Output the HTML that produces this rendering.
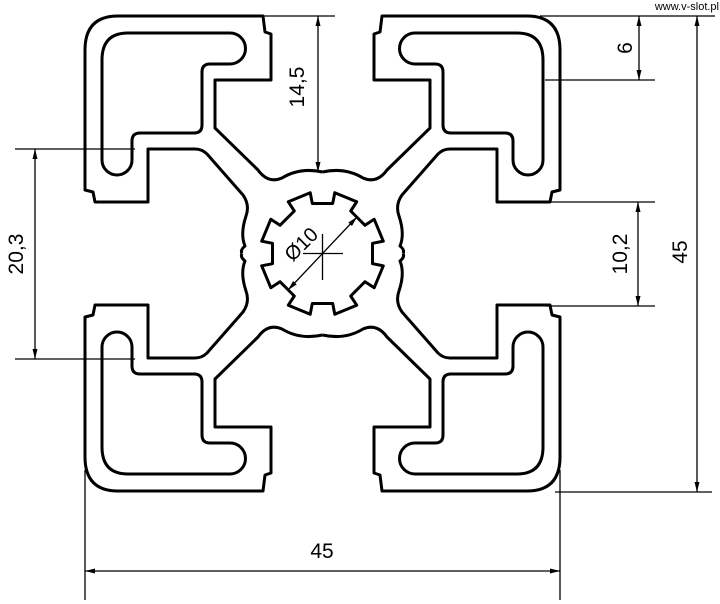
<!DOCTYPE html>
<html><head><meta charset="utf-8"><style>
html,body{margin:0;padding:0;background:#fff;}
svg{display:block}
text{font-family:"Liberation Sans",sans-serif;fill:#000}
</style></head><body>
<svg width="720" height="604" viewBox="0 0 720 604" xmlns="http://www.w3.org/2000/svg">
<defs>
<g id="q" fill="none" stroke="#000" stroke-width="3" stroke-linejoin="round">
<path d="M322.5,172 Q300,167 282,178 Q268,184 258,170 L215,128 L215,80 L271,80 L271,34 L265,32 L263,16 L118,16 Q85,16 85,50 L85,190 L93,192 L95,202 L148,202 L148,149 L195,149 Q202,149 207,154 L243,195 Q250,205 246,216 Q240,234 245,246 Q240,250 242,253.5"/>
<path d="M102,60 Q102,33 128,33 L230,33 A15.5,15.5 0 0 1 230,64 L210,64 Q202,64 202,72 L202,125 Q202,133 194,133 L140,133 Q132,133 132,141 L132,160 A15,15 0 0 1 102,160 Z"/>
</g>
<marker id="a" viewBox="0 0 10 10" refX="10" refY="5" markerWidth="10" markerHeight="10" orient="auto-start-reverse" markerUnits="userSpaceOnUse"><path d="M0,2.5 L10,5 L0,7.5 Z" fill="#000"/></marker>
</defs>
<use href="#q"/>
<use href="#q" transform="matrix(-1 0 0 1 645 0)"/>
<use href="#q" transform="matrix(1 0 0 -1 0 507)"/>
<use href="#q" transform="matrix(-1 0 0 -1 645 507)"/>
<path transform="translate(322.5,253.5)" fill="none" stroke="#000" stroke-width="3" stroke-linejoin="round" d="M50,10.2 L60.8,12.3 L51.7,34.2 L42.5,28.2 L28.2,42.5 L34.2,51.7 L12.3,60.8 L10.2,50 L-10.2,50 L-12.3,60.8 L-34.2,51.7 L-28.2,42.5 L-42.5,28.2 L-51.7,34.2 L-60.8,12.3 L-50,10.2 L-50,-10.2 L-60.8,-12.3 L-51.7,-34.2 L-42.5,-28.2 L-28.2,-42.5 L-34.2,-51.7 L-12.3,-60.8 L-10.2,-50 L10.2,-50 L12.3,-60.8 L34.2,-51.7 L28.2,-42.5 L42.5,-28.2 L51.7,-34.2 L60.8,-12.3 L50,-10.2 Z"/>
<g stroke="#000" stroke-width="1.3" fill="none">
<line x1="303" y1="253.5" x2="343" y2="253.5"/>
<line x1="322.5" y1="234" x2="322.5" y2="280"/>
<line x1="288" y1="290" x2="357" y2="217" marker-start="url(#a)" marker-end="url(#a)"/>
<!-- 14,5 -->
<line x1="263" y1="16" x2="335" y2="16"/>
<line x1="318" y1="16" x2="318" y2="172" marker-start="url(#a)" marker-end="url(#a)"/>
<!-- 6 -->
<line x1="540" y1="16" x2="715" y2="16"/>
<line x1="545" y1="80" x2="655" y2="80"/>
<line x1="639" y1="16" x2="639" y2="80" marker-start="url(#a)" marker-end="url(#a)"/>
<!-- 10,2 -->
<line x1="545" y1="202" x2="655" y2="202"/>
<line x1="545" y1="306" x2="655" y2="306"/>
<line x1="638" y1="202" x2="638" y2="306" marker-start="url(#a)" marker-end="url(#a)"/>
<!-- 45 right -->
<line x1="555" y1="492" x2="712" y2="492"/>
<line x1="697" y1="16" x2="697" y2="492" marker-start="url(#a)" marker-end="url(#a)"/>
<!-- 20,3 -->
<line x1="15" y1="149" x2="135" y2="149"/>
<line x1="15" y1="359" x2="135" y2="359"/>
<line x1="35" y1="149" x2="35" y2="359" marker-start="url(#a)" marker-end="url(#a)"/>
<!-- 45 bottom -->
<line x1="85" y1="470" x2="85" y2="600"/>
<line x1="560" y1="470" x2="560" y2="600"/>
<line x1="85" y1="571" x2="560" y2="571" marker-start="url(#a)" marker-end="url(#a)"/>
</g>
<text x="0" y="0" font-size="21" text-anchor="middle" transform="translate(304,87) rotate(-90)">14,5</text>
<text x="0" y="0" font-size="21" text-anchor="middle" transform="translate(632,48) rotate(-90)">6</text>
<text x="0" y="0" font-size="21" text-anchor="middle" transform="translate(627,254) rotate(-90)">10,2</text>
<text x="0" y="0" font-size="21" text-anchor="middle" transform="translate(687,252) rotate(-90)">45</text>
<text x="0" y="0" font-size="21" text-anchor="middle" transform="translate(23,254) rotate(-90)">20,3</text>
<text x="322" y="558" font-size="21" text-anchor="middle">45</text>
<text x="0" y="0" font-size="20" text-anchor="middle" transform="translate(306,249) rotate(-45)">Ø10</text>
<text x="719" y="10" font-size="11" text-anchor="end" fill="#333">www.v-slot.pl</text>
</svg>
</body></html>
